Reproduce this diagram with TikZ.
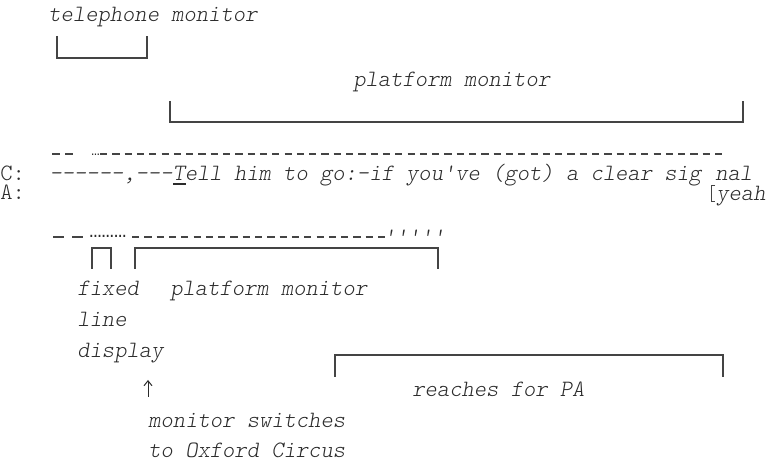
\documentclass[tikz,border=0pt]{standalone}
\usepackage{fontspec}
\setmonofont{lmmonolt10-regular.otf}[ItalicFont=lmmonolt10-oblique.otf]
\newfontfamily\dotfont{Liberation Mono}
\usetikzlibrary{arrows.meta}
\definecolor{ink}{HTML}{2B2B2B}
\definecolor{rule}{HTML}{444444}
\tikzset{
  lbl/.style={inner sep=0pt, anchor=base west, text=ink,
    font=\ttfamily\itshape\fontsize{11.71}{13}\selectfont},
  spk/.style={lbl, font=\ttfamily\upshape\fontsize{11.71}{13}\selectfont},
  upper/.style={text depth=0.5pt},
  lower/.style={text height=4pt},
  smalldots/.style={lbl, font=\dotfont\fontsize{7}{7}\selectfont},
  dots/.style={lbl, font=\dotfont\fontsize{10.25}{12}\selectfont},
  brk/.style={line width=0.65pt, draw=rule},
  thinbrk/.style={line width=0.45pt, draw=rule},
  gaze/.style={line width=0.55pt, draw=rule, dash pattern=on 3.6pt off 2.55pt},
  solidgaze/.style={line width=0.55pt, draw=rule},
  arr/.style={line width=0.5pt, draw=ink, -{Straight Barb[length=2.5pt,width=4pt]}},
}
\begin{document}
\begin{tikzpicture}[x=0.5pt, y=-0.5pt]
\useasboundingbox (0,0) rectangle (768,464);

% top annotations
\node[lbl] (tel) at (48,22) {telephone monitor};
\draw[brk] (57,36) |- (147,58) -- (147,36);
\node[lbl] (plat1) at (353,87) {platform monitor};
\draw[brk] (170,101) |- (743,122) -- (743,101);

% upper gaze row
\draw[solidgaze] (52,154) -- (60,154);
\draw[solidgaze] (65,154) -- (73,154);
\node[smalldots] (ell1) at (91,156) {…};
\draw[gaze] (100,154) -- (722,154);

% transcript lines
\node[spk, upper] (C) at (0,181) {C:};
\node[lbl, upper] (cline) at (49.2,181) {------,---Tell him to go:-if you've (got) a clear sig};
\draw[line width=1pt, draw=ink] (173,184.5) -- (186,184.5);
\node[lbl, upper] (nal) at (715,181) {nal};
\draw[thinbrk] (715,185) -| (711,201) -- (715,201);
\node[spk, lower] (A) at (0,200) {A:};
\node[lbl, lower] (yeah) at (716,201) {yeah};

% lower gaze row
\draw[solidgaze] (53,237) -- (64,237);
\draw[solidgaze] (72,237) -- (83,237);
\node[dots] (ell2) at (89,238) {………};
\draw[gaze] (132,237) -- (385,237);
\node[lbl] (primes) at (383,245) {'''''};

% lower brackets
\draw[brk] (92,269) |- (111,248) -- (111,269);
\draw[brk] (135,269) |- (438,248) -- (438,269);

\node[lbl] (fixed) at (77,296) {fixed};
\node[lbl] (plat2) at (170,296) {platform monitor};
\node[lbl] (line) at (77,327) {line};
\node[lbl] (disp) at (77,358) {display};

\coordinate (arrS) at (148,397);
\coordinate (arrE) at (148,380);
\draw[arr] (arrS) -- (arrE);

\node[lbl] (mon) at (148,428) {monitor switches};
\node[lbl] (ox) at (148,458) {to Oxford Circus};

\draw[brk] (335,377) |- (723,355) -- (723,377);
\node[lbl] (pa) at (412,397) {reaches for PA};
\end{tikzpicture}
\end{document}
